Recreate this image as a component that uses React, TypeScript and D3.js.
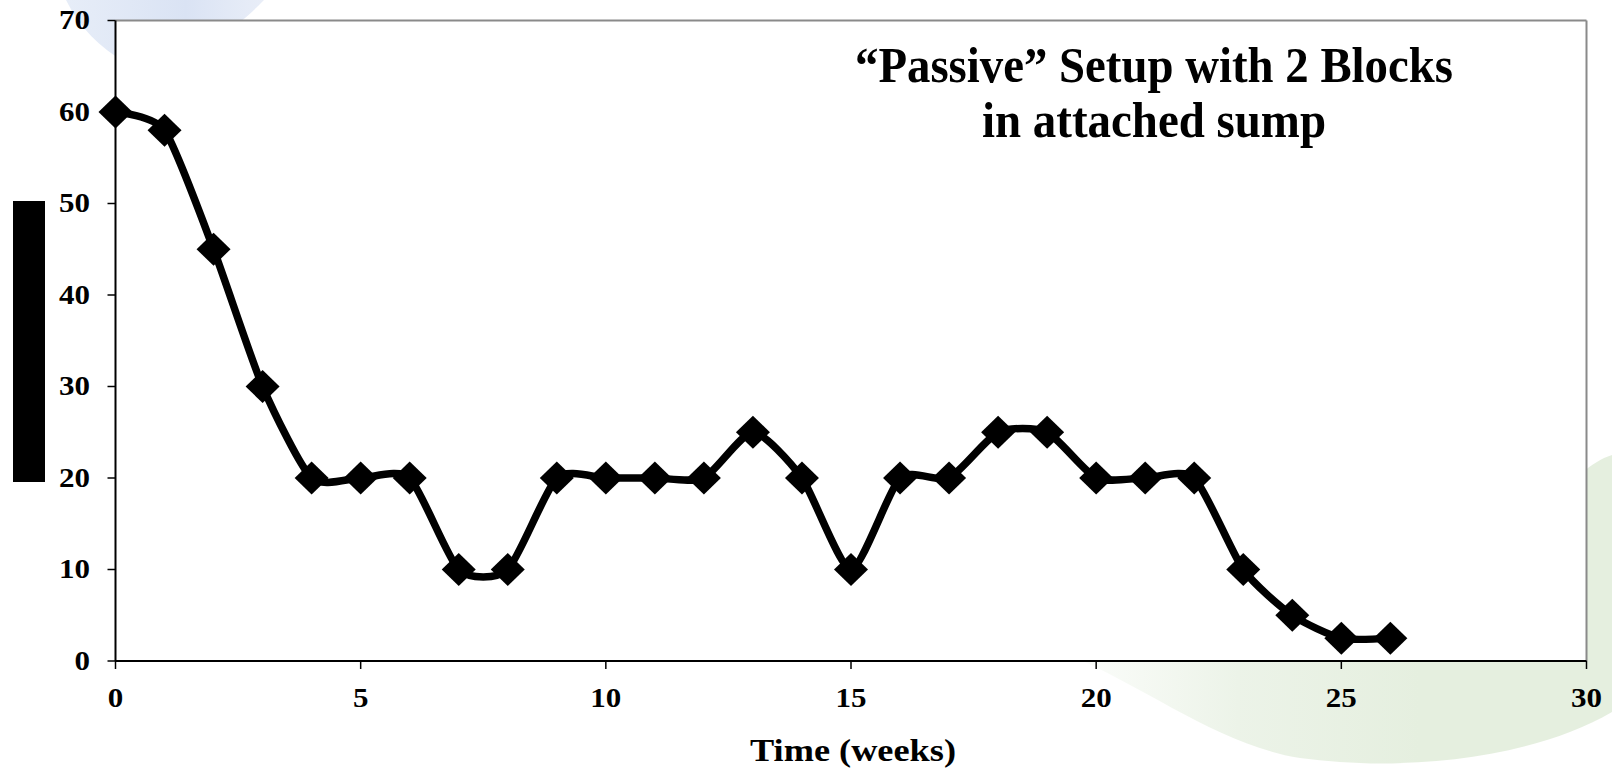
import React from "react";
import * as d3 from "d3";

// Weekly readings for the passive setup
const weeks = [0, 1, 2, 3, 4, 5, 6, 7, 8, 9, 10, 11, 12, 13, 14, 15, 16, 17, 18, 19, 20, 21, 22, 23, 24, 25, 26];
const readings = [60, 58, 45, 30, 20, 20, 20, 10, 10, 20, 20, 20, 20, 25, 20, 10, 20, 20, 25, 25, 20, 20, 20, 10, 5, 2.5, 2.5];
const xTicks = [0, 5, 10, 15, 20, 25, 30];
const yTicks = [0, 10, 20, 30, 40, 50, 60, 70];
const titleLines = ["\u201CPassive\u201D Setup with 2 Blocks", "in attached sump"];
const xTitle = "Time (weeks)";

const W = 1612;
const H = 768;
const FONT = "'Liberation Serif', 'Times New Roman', serif";

export default function App() {
  const x = d3.scaleLinear().domain([0, 30]).range([115.5, 1586.5]);
  const y = d3.scaleLinear().domain([0, 70]).range([661, 20.5]);
  const [x0, x1] = x.range();
  const [y0, y1] = y.range();

  const line = d3
    .line<number>()
    .x((_, i) => x(weeks[i]))
    .y((d) => y(d))
    .curve(d3.curveCardinal.tension(0.35));

  const diamond = (cx: number, cy: number) =>
    `M${cx - 17},${cy} L${cx},${cy - 16.5} L${cx + 17},${cy} L${cx},${cy + 16.5} Z`;

  // title line widths (horizontally condensed bold serif)
  const titleWidths = [598, 344];

  return (
    <svg
      width={W}
      height={H}
      viewBox={`0 0 ${W} ${H}`}
      style={{ position: "absolute", left: 0, top: 0, display: "block", background: "#fff" }}
    >
      <defs>
        <linearGradient id="greenSweep" x1="1060" y1="0" x2="1420" y2="0" gradientUnits="userSpaceOnUse">
          <stop offset="0" stopColor="#e8f1e3" stopOpacity="0.1" />
          <stop offset="0.5" stopColor="#e7f0e2" stopOpacity="0.8" />
          <stop offset="1" stopColor="#e5efdf" stopOpacity="1" />
        </linearGradient>
        <linearGradient id="blueSweep" x1="60" y1="0" x2="270" y2="0" gradientUnits="userSpaceOnUse">
          <stop offset="0" stopColor="#dde6f5" stopOpacity="0.7" />
          <stop offset="0.6" stopColor="#dae3f4" stopOpacity="1" />
          <stop offset="1" stopColor="#e4eaf6" stopOpacity="0.8" />
        </linearGradient>
      </defs>

      {/* decorative background sweeps */}
      <path d="M66,0 C80,28 100,48 125,62 L240,22 C250,14 258,6 264,0 Z" fill="url(#blueSweep)" />
      <path
        d="M1612,455 C1590,462 1575,480 1550,500 L1070,655 C1150,690 1220,745 1300,758 C1400,772 1530,760 1612,712 Z"
        fill="url(#greenSweep)"
      />

      {/* plot area */}
      <rect x={x0} y={y1} width={x1 - x0} height={y0 - y1} fill="#fff" />
      <line x1={x0} x2={x1} y1={y1} y2={y1} stroke="#8a8a8a" strokeWidth={2} />
      <line x1={x1} x2={x1} y1={y1} y2={y0} stroke="#8a8a8a" strokeWidth={2} />

      {/* y axis */}
      <line x1={x0} x2={x0} y1={y1} y2={y0} stroke="#000" strokeWidth={2} />
      {yTicks.map((t) => (
        <g key={`y${t}`}>
          <line x1={x0 - 8} x2={x0} y1={y(t)} y2={y(t)} stroke="#000" strokeWidth={1.5} />
          <text
            x={90}
            y={y(t) + 8.5}
            textAnchor="end"
            fontFamily={FONT}
            fontWeight="bold"
            fontSize={26.5}
            textLength={String(t).length * 15.5}
            lengthAdjust="spacingAndGlyphs"
          >
            {t}
          </text>
        </g>
      ))}

      {/* x axis */}
      <line x1={x0} x2={x1} y1={y0} y2={y0} stroke="#000" strokeWidth={2} />
      {xTicks.map((t) => (
        <g key={`x${t}`}>
          <line x1={x(t)} x2={x(t)} y1={y0} y2={y0 + 8} stroke="#000" strokeWidth={1.5} />
          <text
            x={x(t)}
            y={707}
            textAnchor="middle"
            fontFamily={FONT}
            fontWeight="bold"
            fontSize={26.5}
            textLength={String(t).length * 15.5}
            lengthAdjust="spacingAndGlyphs"
          >
            {t}
          </text>
        </g>
      ))}
      <text
        x={853}
        y={761}
        textAnchor="middle"
        fontFamily={FONT}
        fontWeight="bold"
        fontSize={32.5}
        textLength={206}
        lengthAdjust="spacingAndGlyphs"
      >
        {xTitle}
      </text>

      {/* y axis title block */}
      <rect x={13} y={201} width={32} height={281} fill="#000" />

      {/* title */}
      {titleLines.map((t, i) => (
        <text
          key={t}
          x={1154}
          y={81.5 + i * 55}
          textAnchor="middle"
          fontFamily={FONT}
          fontWeight="bold"
          fontSize={50}
          textLength={titleWidths[i]}
          lengthAdjust="spacingAndGlyphs"
        >
          {t}
        </text>
      ))}

      {/* series */}
      <path d={line(readings) ?? ""} fill="none" stroke="#000" strokeWidth={7.5} strokeLinejoin="round" />
      {readings.map((v, i) => (
        <path key={i} d={diamond(x(weeks[i]), y(v))} fill="#000" />
      ))}
    </svg>
  );
}
